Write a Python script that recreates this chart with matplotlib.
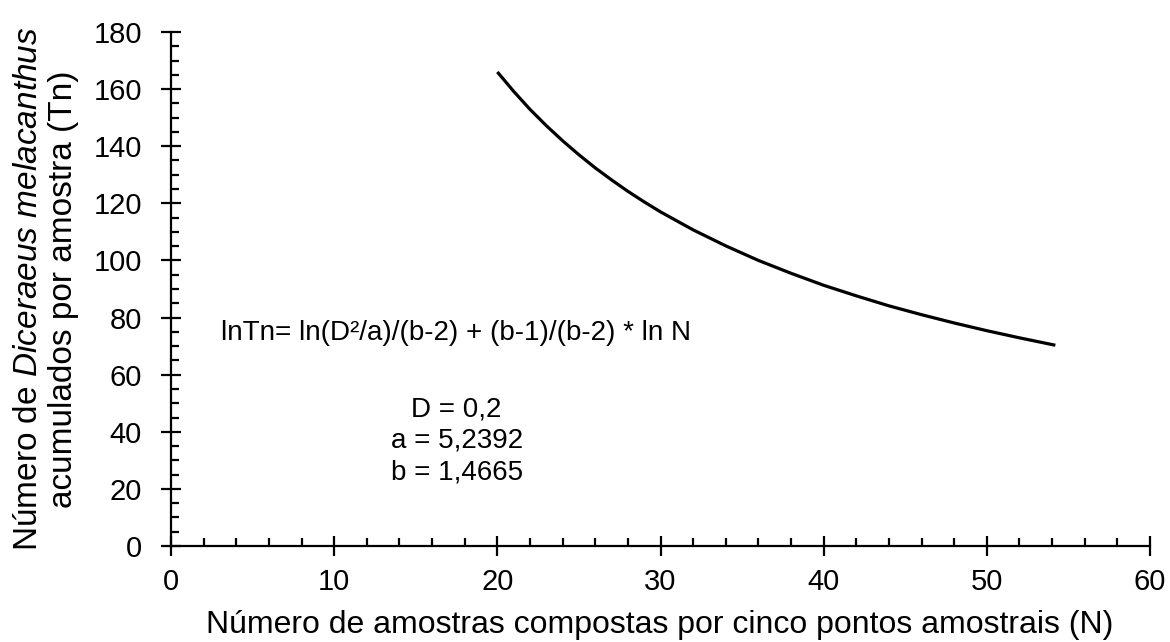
import matplotlib
matplotlib.use("Agg")
import matplotlib.pyplot as plt
from matplotlib.ticker import MultipleLocator

# Fitted curve of accumulated insects per sample vs number of composite samples
n_amostras = [20, 21, 22, 23, 24, 25, 26, 27, 28, 29, 30, 32, 34, 36, 38,
              40, 42, 44, 46, 48, 50, 52, 54.2]
tn = [166, 159.2, 152.9, 147.2, 141.9, 137.0, 132.4, 128.2, 124.2, 120.5,
      117.0, 110.7, 105.1, 100.0, 95.5, 91.3, 87.6, 84.1, 81.0, 78.1, 75.4,
      72.9, 70.3]

equacao = "lnTn= ln(D²/a)/(b-2) + (b-1)/(b-2) * ln N"
parametros = "D = 0,2\na = 5,2392\nb = 1,4665"

plt.rcParams["font.family"] = ["Liberation Sans", "DejaVu Sans"]
plt.rcParams["mathtext.fontset"] = "custom"
plt.rcParams["mathtext.rm"] = "Liberation Sans"
plt.rcParams["mathtext.it"] = "Liberation Sans:italic"

fig = plt.figure(figsize=(11.7, 6.42), dpi=100)
ax = fig.add_axes([0.1462, 0.1495, 0.8367, 0.8007])

ax.plot(n_amostras, tn, color="black", linewidth=2.3,
        solid_capstyle="butt", solid_joinstyle="round")

ax.set_xlim(0, 60)
ax.set_ylim(0, 180)
ax.xaxis.set_major_locator(MultipleLocator(10))
ax.xaxis.set_minor_locator(MultipleLocator(2))
ax.yaxis.set_major_locator(MultipleLocator(20))
ax.yaxis.set_minor_locator(MultipleLocator(5))

for side in ("top", "right"):
    ax.spines[side].set_visible(False)
for side in ("left", "bottom"):
    ax.spines[side].set_linewidth(1.6)

ax.tick_params(which="major", direction="inout", length=14, width=1.6,
               labelsize=21)
ax.tick_params(axis="y", which="major", pad=14)
ax.tick_params(axis="x", which="major", pad=9)
ax.tick_params(which="minor", direction="in", length=5.5, width=1.6)

# axis titles placed in figure pixels
fig.text(660 / 1170, 1 - 633 / 642,
         "Número de amostras compostas por cinco pontos amostrais (N)",
         fontsize=23, ha="center", va="baseline")
fig.text(46 / 1170, 1 - 289 / 642,
         "Número de $\\it{Diceraeus\\ melacanthus}$\n"
         "acumulados por amostra (Tn)", fontsize=24, rotation=90,
         ha="center", va="center", multialignment="center", linespacing=1.2)

ax.text(3.06, 74.6, equacao, fontsize=20, ha="left", va="center")
ax.text(17.5, 36.8, parametros, fontsize=20, ha="center", va="center",
        linespacing=1.27)

fig.savefig("out.png", dpi=100)
